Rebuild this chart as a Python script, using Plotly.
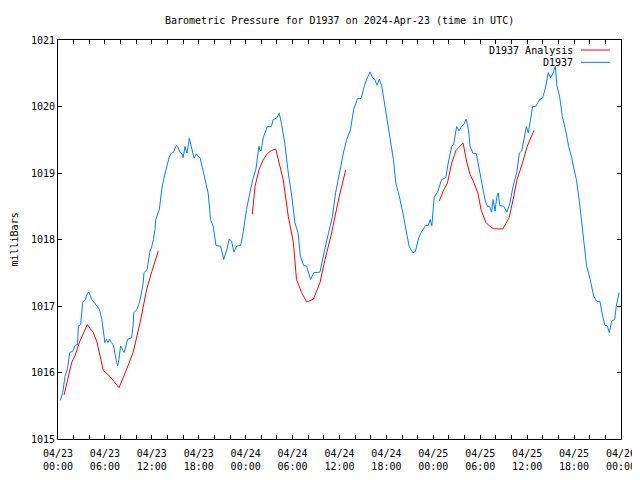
import pandas as pd
import plotly.graph_objects as go

BASE = pd.Timestamp("2024-04-23 00:00")

# D1937 observed pressure: (hours after 04/23 00:00 UTC, millibars)
obs_hours = [0.3, 0.6, 0.9, 1.2, 1.5, 1.9, 2.2, 2.5, 2.6, 2.9, 3.15, 3.5, 3.8, 4.0, 4.3, 4.6, 4.95,
             5.3, 5.6, 5.85, 6.0, 6.2, 6.4, 6.6, 6.8, 7.07, 7.3, 7.5, 7.63, 7.8, 8.0, 8.2, 8.44,
             8.7, 8.9, 9.4, 9.6, 9.7, 10.1, 10.4, 10.6, 10.9, 11.0, 11.4, 11.6, 11.76, 12.0, 12.2,
             12.4, 12.5, 12.96, 13.1, 13.26, 13.5, 13.7, 14.0, 14.2, 14.5, 14.75, 15.1, 15.3, 15.6,
             15.9, 16.0, 16.24, 16.4, 16.5, 16.8, 17.1, 17.4, 17.7, 17.9, 18.16, 18.4, 18.6, 18.9,
             19.2, 19.4, 19.5, 19.85, 20.0, 20.2, 20.8, 21.0, 21.2, 21.4, 21.6, 21.9, 22.2, 22.5,
             22.85, 23.36, 23.7, 24.1, 24.4, 24.9, 25.3, 25.5, 25.7, 25.8, 25.96, 26.25, 26.5,
             26.77, 27.3, 27.5, 28.0, 28.3, 28.6, 29.0, 29.45, 29.9, 30.3, 30.7, 31.0, 31.4, 31.8,
             32.1, 32.3, 32.5, 32.7, 33.5, 33.9, 34.3, 34.6, 35.1, 35.5, 35.97, 36.5, 36.9, 37.4,
             37.8, 38.3, 38.76, 39.2, 39.55, 39.9, 40.25, 40.5, 40.8, 41.1, 41.4, 41.7, 42.0,
             42.45, 42.9, 43.2, 43.65, 44.1, 44.6, 44.9, 45.4, 45.7, 46.1, 46.4, 46.7, 47.0, 47.35,
             47.6, 47.8, 48.1, 48.6, 49.05, 49.6, 49.9, 50.35, 50.6, 50.98, 51.3, 51.6, 51.9, 52.2,
             52.5, 52.7, 53.05, 53.5, 53.9, 54.3, 54.6, 54.9, 55.2, 55.45, 55.65, 55.9, 56.1, 56.3,
             56.5, 57.0, 57.4, 57.8, 58.2, 58.66, 59.0, 59.3, 59.6, 59.9, 60.15, 60.35, 60.7, 61.1,
             61.55, 61.97, 62.3, 62.7, 63.0, 63.4, 63.6, 63.8, 64.15, 64.5, 65.0, 65.3, 65.7, 66.0,
             66.3, 66.7, 67.0, 67.3, 67.6, 68.06, 68.5, 68.9, 69.3, 69.65, 69.95, 70.25, 70.5,
             70.8, 71.2, 71.4, 71.75]
obs_mb = [1015.58, 1015.70, 1015.94, 1016.05, 1016.30, 1016.32, 1016.41, 1016.42, 1016.70, 1016.72,
          1017.05, 1017.10, 1017.20, 1017.20, 1017.10, 1017.05, 1017.00, 1016.95, 1016.80, 1016.60,
          1016.45, 1016.50, 1016.45, 1016.50, 1016.45, 1016.42, 1016.25, 1016.15, 1016.10, 1016.20,
          1016.40, 1016.35, 1016.30, 1016.40, 1016.50, 1016.52, 1016.70, 1016.90, 1016.95, 1017.05,
          1017.15, 1017.35, 1017.50, 1017.55, 1017.70, 1017.82, 1017.90, 1018.00, 1018.15, 1018.30,
          1018.45, 1018.60, 1018.75, 1018.90, 1019.00, 1019.15, 1019.23, 1019.30, 1019.31, 1019.41,
          1019.40, 1019.31, 1019.28, 1019.23, 1019.40, 1019.33, 1019.30, 1019.52, 1019.35, 1019.22,
          1019.29, 1019.25, 1019.23, 1019.10, 1019.00, 1018.85, 1018.70, 1018.45, 1018.30, 1018.20,
          1018.05, 1017.91, 1017.90, 1017.80, 1017.70, 1017.78, 1017.85, 1018.01, 1017.97, 1017.81,
          1017.90, 1017.91, 1018.12, 1018.45, 1018.61, 1018.90, 1019.05, 1019.20, 1019.40, 1019.35,
          1019.33, 1019.53, 1019.62, 1019.70, 1019.70, 1019.80, 1019.83, 1019.90, 1019.73, 1019.45,
          1019.00, 1018.65, 1018.25, 1018.10, 1017.75, 1017.61, 1017.60, 1017.50, 1017.40, 1017.45,
          1017.50, 1017.51, 1017.75, 1017.95, 1018.10, 1018.35, 1018.70, 1019.00, 1019.30, 1019.50,
          1019.65, 1019.95, 1020.12, 1020.12, 1020.32, 1020.43, 1020.52, 1020.43, 1020.41, 1020.32,
          1020.41, 1020.31, 1020.08, 1019.85, 1019.55, 1019.20, 1018.85, 1018.65, 1018.40, 1018.10,
          1017.90, 1017.80, 1017.82, 1018.01, 1018.10, 1018.15, 1018.21, 1018.21, 1018.30, 1018.20,
          1018.63, 1018.73, 1018.90, 1018.93, 1019.15, 1019.40, 1019.43, 1019.70, 1019.63, 1019.70,
          1019.73, 1019.81, 1019.65, 1019.40, 1019.30, 1019.29, 1019.05, 1018.80, 1018.60, 1018.50,
          1018.50, 1018.41, 1018.60, 1018.43, 1018.63, 1018.70, 1018.51, 1018.50, 1018.41, 1018.55,
          1018.80, 1019.00, 1019.30, 1019.33, 1019.50, 1019.70, 1019.60, 1019.75, 1020.00, 1020.00,
          1020.10, 1020.13, 1020.26, 1020.51, 1020.43, 1020.53, 1020.61, 1020.31, 1020.15, 1019.85,
          1019.60, 1019.40, 1019.23, 1019.05, 1018.90, 1018.55, 1018.25, 1017.90, 1017.60, 1017.40,
          1017.15, 1017.07, 1017.07, 1016.85, 1016.71, 1016.70, 1016.60, 1016.77, 1016.80, 1017.00,
          1017.20]

# D1937 Analysis: three separate runs (None marks a gap)
ana_hours = [0.77, 1.75, 2.17, 2.8, 3.75, 4.5, 4.95, 5.8, 6.65, 7.3, 7.8, 8.78, 9.6, 10.5, 11.34,
             12.0, 12.83, None,
             24.85, 25.2, 25.7, 26.25, 26.77, 27.3, 27.84, 28.3, 28.8, 29.45, 30.1, 30.5, 31.16,
             31.8, 32.65, 33.5, 34.15, 34.9, 35.4, 35.97, 36.8, None,
             48.76, 49.27, 49.8, 50.35, 50.9, 51.8, 52.3, 52.7, 53.1, 53.7, 54.1, 54.7, 55.2,
             55.75, 56.9, 57.7, 58.2, 58.7, 59.4, 60.0, 60.87]
ana_mb = [1015.66, 1016.15, 1016.25, 1016.47, 1016.72, 1016.60, 1016.47, 1016.03, 1015.94, 1015.85,
          1015.77, 1016.05, 1016.30, 1016.75, 1017.25, 1017.52, 1017.83, None,
          1018.38, 1018.80, 1019.05, 1019.20, 1019.29, 1019.34, 1019.36, 1019.15, 1018.90, 1018.35,
          1017.95, 1017.40, 1017.20, 1017.06, 1017.10, 1017.35, 1017.70, 1018.05, 1018.35, 1018.65,
          1019.05, None,
          1018.58, 1018.73, 1018.85, 1019.15, 1019.34, 1019.45, 1019.15, 1018.98, 1018.88, 1018.70,
          1018.45, 1018.26, 1018.20, 1018.16, 1018.16, 1018.33, 1018.60, 1018.90, 1019.15, 1019.40,
          1019.64]

tick_hours = [0, 6, 12, 18, 24, 30, 36, 42, 48, 54, 60, 66, 72]
tick_text = ["04/23<br>00:00", "04/23<br>06:00", "04/23<br>12:00", "04/23<br>18:00",
             "04/24<br>00:00", "04/24<br>06:00", "04/24<br>12:00", "04/24<br>18:00",
             "04/25<br>00:00", "04/25<br>06:00", "04/25<br>12:00", "04/25<br>18:00",
             "04/26<br>00:00"]
y_ticks = [1015, 1016, 1017, 1018, 1019, 1020, 1021]

series_names = ["D1937 Analysis", "D1937"]
series_colors = ["#ff0000", "#0080ff"]


def to_time(hours):
    return [None if h is None else BASE + pd.Timedelta(hours=h) for h in hours]


FONT = "DejaVu Sans Mono, Liberation Mono, monospace"

fig = go.Figure()
fig.add_trace(go.Scatter(x=to_time(ana_hours), y=ana_mb, mode="lines", name=series_names[0],
                         line=dict(color=series_colors[0], width=1), connectgaps=False))
fig.add_trace(go.Scatter(x=to_time(obs_hours), y=obs_mb, mode="lines", name=series_names[1],
                         line=dict(color=series_colors[1], width=1)))

# The page body adds an 8px offset; size the figure so the plot box lands at
# x 58..621, y 40..439 in the 640x480 window, without vertical overflow.
OFF = 8
W, H = 640 - OFF, 480 - 2 * OFF
L, R, T = 58 - OFF, (OFF + W) - 621, 40 - OFF
B = (OFF + H) - 439
pw, ph = W - L - R, H - T - B
PLOT_BOTTOM = 439  # window pixel of the plot's bottom edge

fig.update_layout(
    width=W, height=H,
    margin=dict(l=L, r=R, t=T, b=B, pad=0, autoexpand=False),
    paper_bgcolor="white", plot_bgcolor="white",
    showlegend=False,
    font=dict(family=FONT, size=10, color="black"),
    xaxis=dict(
        range=[BASE, BASE + pd.Timedelta(hours=72)],
        tickvals=to_time(tick_hours), ticktext=tick_text,
        ticks="inside", ticklen=4, tickcolor="black", tickwidth=1,
        minor=dict(ticks="inside", ticklen=4, tickcolor="black", tickwidth=1,
                   dtick=2 * 3600 * 1000, tick0=BASE, showgrid=False),
        showline=True, linecolor="black", linewidth=1, mirror="ticks",
        showgrid=False, zeroline=False, tickangle=0, automargin=False,
        ticklabelstandoff=5, ticklabeloverflow="allow",
        tickfont=dict(family=FONT, size=10),
    ),
    yaxis=dict(
        range=[1015, 1021], tickvals=y_ticks, ticktext=[str(v) for v in y_ticks],
        ticks="inside", ticklen=4, tickcolor="black", tickwidth=1,
        showline=True, linecolor="black", linewidth=1, mirror="ticks",
        showgrid=False, zeroline=False, automargin=False,
        tickfont=dict(family=FONT, size=10),
    ),
)

# title
fig.add_annotation(text="Barometric Pressure for D1937 on 2024-Apr-23 (time in UTC)",
                   xref="paper", yref="paper", x=0.5, y=(PLOT_BOTTOM - 20) / ph,
                   xanchor="center", yanchor="middle", showarrow=False,
                   font=dict(family=FONT, size=10))
# y-axis label
fig.add_annotation(text="milliBars", xref="paper", yref="paper",
                   x=(14 - 58) / pw, y=0.5, xanchor="center", yanchor="middle",
                   textangle=-90, showarrow=False, font=dict(family=FONT, size=10))

# gnuplot-style key (text right, sample line to the right)
for i, (name, col) in enumerate(zip(series_names, series_colors)):
    py = 50 + i * 12.3
    yp = (PLOT_BOTTOM - py) / ph
    fig.add_annotation(text=name, xref="paper", yref="paper", x=(575 - 58) / pw, y=yp,
                       xanchor="right", yanchor="middle", showarrow=False,
                       font=dict(family=FONT, size=10))
    fig.add_shape(type="line", xref="paper", yref="paper",
                  x0=(581 - 58) / pw, x1=(610 - 58) / pw, y0=yp, y1=yp,
                  line=dict(color=col, width=1))

fig.write_html("out.html")
